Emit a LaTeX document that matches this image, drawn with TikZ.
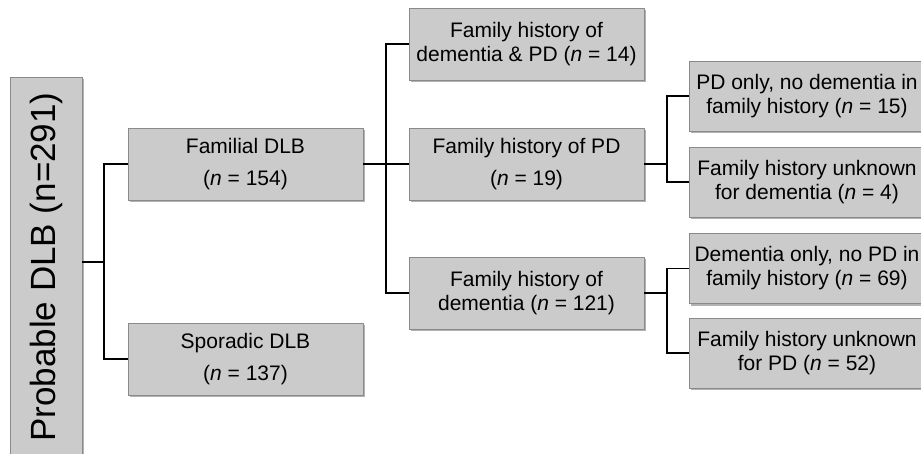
\documentclass[tikz,border=0pt]{standalone}
\usepackage{fontspec}
\setmainfont{Liberation Sans}
\usetikzlibrary{shadows}
\definecolor{boxfill}{HTML}{CBCBCB}
\definecolor{boxline}{HTML}{8A8A8A}
\tikzset{
  box/.style={draw=boxline, fill=boxfill, line width=0.8pt,
    minimum width=235pt, minimum height=72pt, inner sep=0pt, align=center,
    font=\fontsize{21}{24}\selectfont,
    drop shadow={shadow xshift=1.5pt, shadow yshift=-2pt, opacity=0.3, fill=black}},
  link/.style={line width=1.5pt},
  stub/.style={line width=2.5pt}
}
\begin{document}
\begin{tikzpicture}[x=1pt,y=-1pt]
  \useasboundingbox (0,0) rectangle (921,453);
  \def\xa{245.5}
  \def\xb{526.5}
  \def\xc{807}
  % root
  \node[box, minimum width=72pt, minimum height=380pt,
    font=\fontsize{35}{38}\selectfont] (root) at (46,267)
    {\rotatebox{90}{Probable DLB (n=291)}};
  %
  \node[box] (fam) at (\xa,164) {Familial DLB\\[8pt](\textit{n} = 154)};
  \node[box] (spor) at (\xa,359) {Sporadic DLB\\[8pt](\textit{n} = 137)};
  %
  \node[box] (dempd) at (\xb,44) {Family history of\\dementia \& PD (\textit{n} = 14)};
  \node[box] (pd) at (\xb,164) {Family history of PD\\[8pt](\textit{n} = 19)};
  \node[box] (dem) at (\xb,293) {Family history of\\dementia (\textit{n} = 121)};
  %
  \node[box, minimum height=70pt] (pdonly) at (\xc,96) {PD only, no dementia in\\family history (\textit{n} = 15)};
  \node[box, minimum height=70pt] (unkdem) at (\xc,182) {Family history unknown\\for dementia (\textit{n} = 4)};
  \node[box, minimum height=70pt] (demonly) at (\xc,268.5) {Dementia only, no PD in\\family history (\textit{n} = 69)};
  \node[box, minimum height=70pt] (unkpd) at (\xc,353) {Family history unknown\\for PD (\textit{n} = 52)};
  %
  \coordinate (j1) at (104,262);
  \coordinate (j2) at (386,164);
  \coordinate (j3) at (667,164);
  \coordinate (j4) at (667,293);
  % connectors
  \draw[stub] (j1 -| root.east) -- (j1);
  \draw[link] (fam.west) -| (j1) |- (spor.west);
  \draw[stub] (fam.east) -- (j2);
  \draw[link] (dempd.west) -| (j2) |- (dem.west);
  \draw[link] (j2) -- (pd.west);
  \draw[stub] (pd.east) -- (j3);
  \draw[link] (pdonly.west) -| (j3) |- (unkdem.west);
  \draw[stub] (dem.east) -- (j4);
  \draw[link] (demonly.west) -| (j4) |- (unkpd.west);
\end{tikzpicture}
\end{document}
